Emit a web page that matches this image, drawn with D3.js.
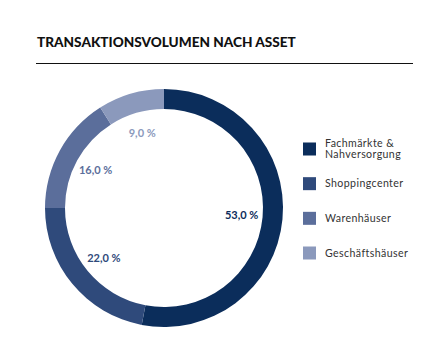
<!DOCTYPE html>
<html><head><meta charset="utf-8">
<script src="https://cdn.jsdelivr.net/npm/d3@7"></script>
<style>body{margin:0;background:#fff}svg{display:block}</style>
</head><body>
<svg id="c" width="430" height="355"></svg>
<script>
const title = "TRANSAKTIONSVOLUMEN NACH ASSET";
const categories = ["Fachmärkte & Nahversorgung", "Shoppingcenter", "Warenhäuser", "Geschäftshäuser"];
const legendLines = [["Fachmärkte &", "Nahversorgung"], ["Shoppingcenter"], ["Warenhäuser"], ["Geschäftshäuser"]];
const values = [53.0, 22.0, 16.0, 9.0];
const colors = ["#0b2d5b", "#2f4a7b", "#5b6e9b", "#8b99bc"];

const svg = d3.select("#c");
const fontFam = "Lato, 'Open Sans', sans-serif";

svg.append("text").attr("x", 37).attr("y", 47)
  .attr("font-family", fontFam).attr("font-weight", 900).attr("font-size", 13.6)
  .attr("fill", "#111").text(title);
svg.append("line").attr("x1", 36).attr("x2", 413).attr("y1", 63.5).attr("y2", 63.5)
  .attr("stroke", "#111").attr("stroke-width", 1.2);

const cx = 164, cy = 208, R = 119, r = 99;
const pie = d3.pie().sort(null).value(d => d);
const arcs = pie(values);
const arc = d3.arc().innerRadius(r).outerRadius(R);
const labelArc = d3.arc().innerRadius(78).outerRadius(78);
const color = d3.scaleOrdinal().domain(d3.range(values.length)).range(colors);

const g = svg.append("g").attr("transform", `translate(${cx},${cy})`);
g.selectAll("path").data(arcs).join("path")
  .attr("d", arc).attr("fill", (d, i) => color(i));

const fmt = v => d3.format(".1f")(v).replace(".", ",") + " %";
g.selectAll("text").data(arcs).join("text")
  .attr("transform", d => `translate(${labelArc.centroid(d)})`)
  .attr("text-anchor", "middle").attr("dy", "0.35em")
  .attr("font-family", fontFam).attr("font-weight", 700).attr("font-size", 11)
  .attr("fill", (d, i) => color(i)).text(d => fmt(d.data));

const ly = d3.scalePoint().domain(d3.range(categories.length)).range([149, 253]);
const lg = svg.append("g");
const items = lg.selectAll("g").data(categories).join("g")
  .attr("transform", (d, i) => `translate(303,${ly(i)})`);
items.append("rect").attr("x", 0).attr("y", -6.5).attr("width", 13).attr("height", 13)
  .attr("fill", (d, i) => color(i));
items.each(function(d, i) {
  const lines = legendLines[i];
  lines.forEach((ln, k) => {
    d3.select(this).append("text").attr("x", 22)
      .attr("y", (k - (lines.length - 1) / 2) * 10.6)
      .attr("dy", "0.35em")
      .attr("font-family", fontFam).attr("font-size", 10.6).attr("letter-spacing", 0.4).attr("fill", "#333")
      .text(ln);
  });
});
</script>
</body></html>
